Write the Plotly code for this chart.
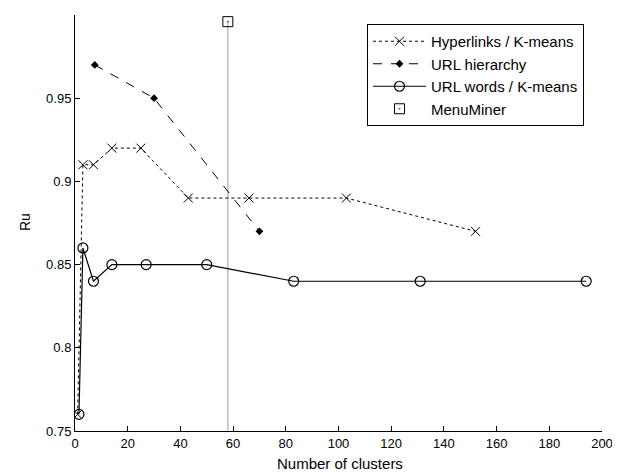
import plotly.graph_objects as go

# Data
hyper_x = [1, 3, 7, 14, 25, 43, 66, 103, 152]
hyper_y = [0.76, 0.91, 0.91, 0.92, 0.92, 0.89, 0.89, 0.89, 0.87]

urlh_x = [7.5, 30, 70]
urlh_y = [0.97, 0.95, 0.87]

urlw_x = [1.5, 3, 7, 14, 27, 50, 83, 131, 194]
urlw_y = [0.76, 0.86, 0.84, 0.85, 0.85, 0.85, 0.84, 0.84, 0.84]

menu_x = [58]
menu_y = [0.996]

x_ticks = [0, 20, 40, 60, 80, 100, 120, 140, 160, 180, 200]
y_ticks = [0.75, 0.8, 0.85, 0.9, 0.95, 1]
y_ticktext = ["0.75", "0.8", "0.85", "0.9", "0.95", "1"]

FONT = "Liberation Sans, Arial, sans-serif"

# The page body has an 8px margin, so the figure is sized/offset to compensate.
W, H = 612, 466
ML, MR, MT, MB = 67, 18, 7, 43
PW, PH = W - ML - MR, H - MT - MB

fig = go.Figure()

# gray stem from the axis up to the MenuMiner point
fig.add_trace(go.Scatter(
    x=[menu_x[0], menu_x[0]], y=[y_ticks[0], menu_y[0]],
    mode="lines", line=dict(color="#bdbdbd", width=1.5),
    showlegend=False, hoverinfo="skip"))

fig.add_trace(go.Scatter(
    x=hyper_x, y=hyper_y, name="Hyperlinks / K-means",
    mode="lines+markers",
    line=dict(color="black", width=1, dash="dot"),
    marker=dict(symbol="x-thin", size=9, line=dict(color="black", width=1), color="black")))

fig.add_trace(go.Scatter(
    x=urlh_x, y=urlh_y, name="URL hierarchy",
    mode="lines+markers",
    line=dict(color="black", width=1, dash="dash"),
    marker=dict(symbol="diamond", size=6, color="black")))

fig.add_trace(go.Scatter(
    x=urlw_x, y=urlw_y, name="URL words / K-means",
    mode="lines+markers",
    line=dict(color="black", width=1.2),
    marker=dict(symbol="circle-open", size=10, color="black", line=dict(width=1.2))))

fig.add_trace(go.Scatter(
    x=menu_x, y=menu_y, name="MenuMiner",
    mode="markers",
    marker=dict(symbol="square-open-dot", size=10, color="black", line=dict(width=1))))

fig.update_layout(
    width=W, height=H,
    margin=dict(l=ML, r=MR, t=MT, b=MB),
    paper_bgcolor="white", plot_bgcolor="white",
    font=dict(family=FONT, size=13, color="black"),
    showlegend=True,
    legend=dict(
        x=(576 - ML) / PW, y=(H - MB - 16) / PH, xanchor="right", yanchor="top",
        bordercolor="black", borderwidth=1, bgcolor="white",
        font=dict(family=FONT, size=15, color="black"),
        itemwidth=53, tracegroupgap=0),
    annotations=[
        dict(text="Number of clusters",
             x=(332 - ML) / PW, y=((H - MB) - 455) / PH,
             xref="paper", yref="paper",
             xanchor="center", yanchor="middle", showarrow=False,
             font=dict(family=FONT, size=15, color="black")),
        dict(text="Ru",
             x=(17 - ML) / PW, y=((H - MB) - 214) / PH,
             xref="paper", yref="paper",
             xanchor="center", yanchor="middle", showarrow=False, textangle=-90,
             font=dict(family=FONT, size=14, color="black")),
    ],
)

fig.update_xaxes(
    range=[0, 200], tickvals=x_ticks, ticktext=[str(v) for v in x_ticks],
    showline=True, linecolor="black", linewidth=1,
    ticks="inside", ticklen=5, tickcolor="black",
    showgrid=False, zeroline=False, automargin=False,
    tickfont=dict(size=13))

fig.update_yaxes(
    range=[0.75, 1], tickvals=y_ticks, ticktext=y_ticktext,
    showline=True, linecolor="black", linewidth=1,
    ticks="inside", ticklen=5, tickcolor="black",
    showgrid=False, zeroline=False, automargin=False,
    tickfont=dict(size=13))

fig.write_html("out.html")
